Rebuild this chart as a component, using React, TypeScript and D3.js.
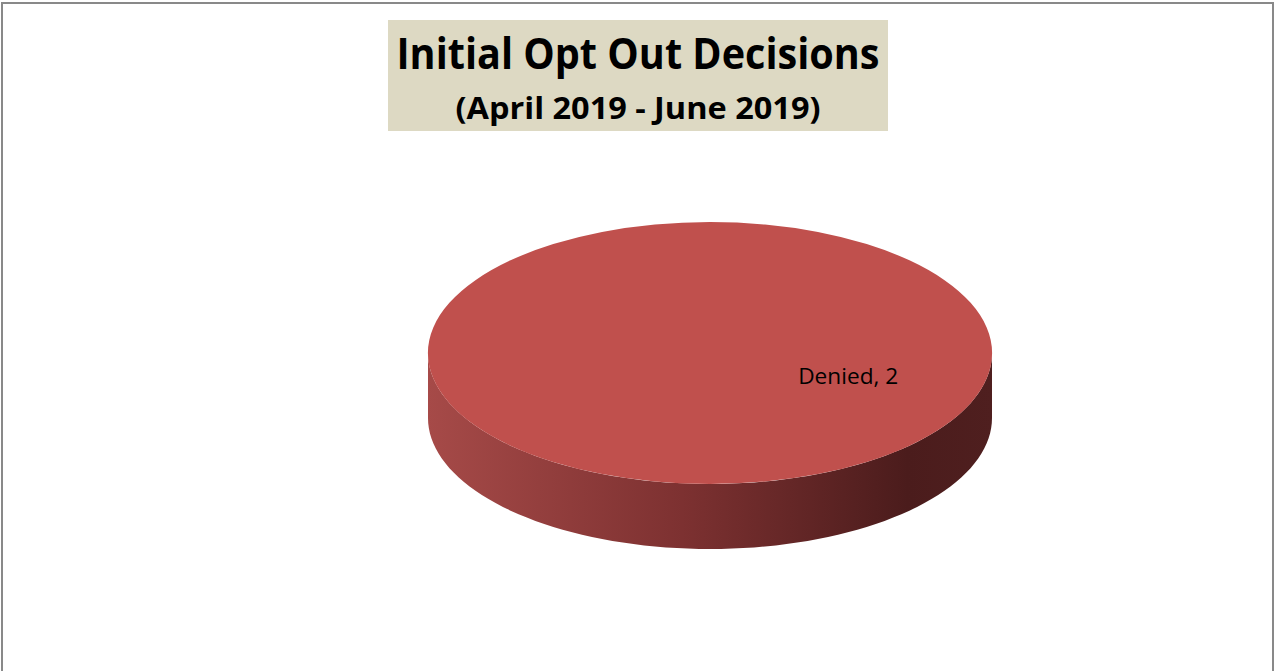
import * as d3 from "d3"
import { useLayoutEffect, useRef } from "react"

// chart data
const categories = ["Denied"]
const values = [2]
const titleLines = ["Initial Opt Out Decisions", "(April 2019 - June 2019)"]

const W = 1275
const H = 671

export default function App() {
  const ref = useRef<SVGSVGElement>(null)

  useLayoutEffect(() => {
    if (!ref.current) return
    const svg = d3.select(ref.current)
    svg.selectAll("*").remove()

    // frame
    svg
      .append("rect")
      .attr("x", 2)
      .attr("y", 3)
      .attr("width", W - 4)
      .attr("height", H + 10)
      .attr("fill", "#fff")
      .attr("stroke", "#898989")
      .attr("stroke-width", 2)

    // title box
    const tb = { x: 388, y: 20, w: 500, h: 111 }
    svg
      .append("rect")
      .attr("x", tb.x)
      .attr("y", tb.y)
      .attr("width", tb.w)
      .attr("height", tb.h)
      .attr("fill", "#ddd9c3")

    const tcx = tb.x + tb.w / 2
    svg
      .append("text")
      .attr("x", tcx)
      .attr("y", 69)
      .attr("text-anchor", "middle")
      .attr("font-family", "'Open Sans', sans-serif")
      .attr("font-weight", 700)
      .attr("font-size", 43)
      .attr("textLength", 483)
      .attr("lengthAdjust", "spacingAndGlyphs")
      .attr("fill", "#000")
      .text(titleLines[0])
    svg
      .append("text")
      .attr("x", tcx)
      .attr("y", 119)
      .attr("text-anchor", "middle")
      .attr("font-family", "'Open Sans', sans-serif")
      .attr("font-weight", 700)
      .attr("font-size", 31)
      .attr("textLength", 365)
      .attr("lengthAdjust", "spacingAndGlyphs")
      .attr("fill", "#000")
      .text(titleLines[1])

    // 3d pie
    const cx = 710
    const cy = 353
    const rx = 282
    const ry = 131
    const depth = 65
    const k = ry / rx

    const data = categories.map((c, i) => ({ label: c, value: values[i] }))
    const pie = d3.pie<{ label: string; value: number }>().value((d) => d.value).sort(null)
    const arcs = pie(data)
    const topColors = ["#c0504d"]

    const defs = svg.append("defs")
    const grad = defs
      .append("linearGradient")
      .attr("id", "side-grad")
      .attr("gradientUnits", "userSpaceOnUse")
      .attr("x1", cx - rx)
      .attr("x2", cx + rx)
      .attr("y1", 0)
      .attr("y2", 0)
    grad.append("stop").attr("offset", "0%").attr("stop-color", "#a64a48")
    grad.append("stop").attr("offset", "45%").attr("stop-color", "#7d3131")
    grad.append("stop").attr("offset", "85%").attr("stop-color", "#4b1c1c")
    grad.append("stop").attr("offset", "100%").attr("stop-color", "#4f1f1f")

    const pt = (a: number, dy = 0): [number, number] => [
      cx + rx * Math.sin(a),
      cy - ry * Math.cos(a) + dy,
    ]

    // side walls: only the front half (pi/2..3pi/2) is visible
    const sidePath = (s: number, e: number) => {
      const a0 = Math.max(s, Math.PI / 2)
      const a1 = Math.min(e, (3 * Math.PI) / 2)
      if (a1 <= a0) return null
      const n = 80
      const angles = d3.range(n + 1).map((i) => a0 + ((a1 - a0) * i) / n)
      const top = angles.map((a) => pt(a))
      const bot = angles.map((a) => pt(a, depth)).reverse()
      return d3.line()([...top, ...bot]) + "Z"
    }

    const g = svg.append("g")
    arcs.forEach((a) => {
      const p = sidePath(a.startAngle, a.endAngle)
      if (p) g.append("path").attr("d", p).attr("fill", "url(#side-grad)")
    })

    const arc = d3
      .arc<d3.PieArcDatum<{ label: string; value: number }>>()
      .innerRadius(0)
      .outerRadius(rx)
    g.selectAll(".slice")
      .data(arcs)
      .enter()
      .append("path")
      .attr("class", "slice")
      .attr("transform", `translate(${cx},${cy}) scale(1,${k})`)
      .attr("d", (d) => arc(d) as string)
      .attr("fill", (_, i) => topColors[i % topColors.length])

    // data label
    g.selectAll(".lbl")
      .data(arcs)
      .enter()
      .append("text")
      .attr("class", "lbl")
      .attr("x", cx + rx * 0.49)
      .attr("y", cy + ry * 0.235)
      .attr("text-anchor", "middle")
      .attr("font-family", "'Open Sans', sans-serif")
      .attr("font-size", 22)
      .attr("textLength", 100)
      .attr("lengthAdjust", "spacingAndGlyphs")
      .attr("fill", "#000")
      .text((d) => `${d.data.label}, ${d.data.value}`)
  }, [])

  return (
    <div style={{ position: "absolute", left: 0, top: 0 }}>
      <svg ref={ref} width={W} height={H} style={{ display: "block" }} />
    </div>
  )
}
